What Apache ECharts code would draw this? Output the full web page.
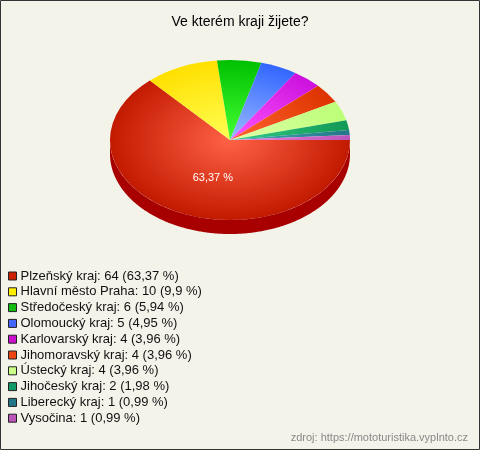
<!DOCTYPE html>
<html><head><meta charset="utf-8">
<script src="https://cdn.jsdelivr.net/npm/echarts@6/dist/echarts.min.js"></script>
<style>html,body{margin:0;padding:0;background:#f4f3ea}#c{width:480px;height:450px;}</style>
</head><body><div id="c"></div>
<script>
const categories = ['Plzeňský kraj','Hlavní město Praha','Středočeský kraj','Olomoucký kraj','Karlovarský kraj','Jihomoravský kraj','Ústecký kraj','Jihočeský kraj','Liberecký kraj','Vysočina'];
const values = [64,10,6,5,4,4,4,2,1,1];
const legendColors = ['#cc2200','#ffee00','#11bb11','#4466ff','#cc11cc','#ee4411','#ccff88','#119966','#227788','#bb55bb'];
const innerColors = ['#ff6245','#ffff55','#44ff33','#99bbff','#ff55ff','#ff6630','#e0ffaa','#33cc88','#44aabb','#ee88dd'];
const outerColors = ['#c21a00','#ffe000','#00c000','#3366ff','#cc11dd','#dd3300','#bbff77','#119955','#227788','#bb55bb'];
const sideColors = ['#a80000','#ccb000','#009000','#2244cc','#990099','#aa2200','#88cc55','#0b6f40','#155566','#884488'];

const total = values.reduce((a,b)=>a+b,0);
const cum = [0]; values.forEach(v=>cum.push(cum[cum.length-1]+v));
function pctText(v){ return (Math.round(v/total*10000)/100).toString().replace('.',','); }

const CX=230, CY=140, RX=120, RY=80, DEPTH=14;

function makeRender(i){
  return function(params, api){
    const v = api.value(0);
    const start = cum[i]/total*Math.PI*2;
    const end = start + v/total*Math.PI*2;
    const children = [];
    const a = Math.max(start,0), b = Math.min(end,Math.PI);
    if (b > a) {
      const pts = [];
      const n = Math.max(2, Math.ceil((b-a)/0.01));
      for (let k=0;k<=n;k++){ const t=a+(b-a)*k/n; pts.push([CX+RX*Math.cos(t), CY+RY*Math.sin(t)]); }
      for (let k=n;k>=0;k--){ const t=a+(b-a)*k/n; pts.push([CX+RX*Math.cos(t), CY+RY*Math.sin(t)+DEPTH]); }
      children.push({type:'polygon', shape:{points:pts}, style:{fill:sideColors[i]}, z2:1});
    }
    children.push({
      type:'group', scaleY: RY/RX, originX: CX, originY: CY, z2: 5,
      children:[{
        type:'sector',
        shape:{cx:CX, cy:CY, r0:0, r:RX, startAngle:start, endAngle:end, clockwise:true},
        style:{fill:{type:'radial', x:CX, y:CY, r:RX, global:true,
          colorStops:[{offset:0,color:innerColors[i]},{offset:1,color:outerColors[i]}]}}
      }]
    });
    if (v/total > 0.1) {
      const mid = (start+end)/2;
      children.push({type:'text', x: CX + RX*0.35*Math.cos(mid), y: CY + RY*0.52*Math.sin(mid), z2: 10,
        style:{text: pctText(v)+' %', fill:'#fff', font:'11px "Liberation Sans", Arial, sans-serif', align:'center', verticalAlign:'middle'}});
    }
    return {type:'group', children};
  };
}

const series = categories.map((name,i)=>({
  type:'custom', name, coordinateSystem:'none',
  data:[[values[i]]],
  itemStyle:{color:legendColors[i]},
  renderItem: makeRender(i),
  silent:true
}));

const chart = echarts.init(document.getElementById('c'));
chart.setOption({
  backgroundColor:'#f4f3ea',
  animation:false,
  title:[
    {text:'Ve kterém kraji žijete?', left:'center', top:10,
     textStyle:{fontSize:14, fontWeight:'normal', color:'#000', fontFamily:'Liberation Sans'}},
    {text:'zdroj: https://mototuristika.vyplnto.cz', right:7, top:427,
     textStyle:{fontSize:11, fontWeight:'normal', color:'#888', fontFamily:'Liberation Sans'}}
  ],
  legend:{
    orient:'vertical', left:8, top:269, padding:0, icon:'rect', itemWidth:8, itemHeight:8, itemGap:1.8,
    selectedMode:false,
    itemStyle:{borderColor:'#222', borderWidth:1},
    textStyle:{fontSize:13, color:'#111', fontFamily:'Liberation Sans', lineHeight:14, padding:[0,0,0,-1]},
    data: categories,
    formatter: function(name){ const i=categories.indexOf(name); return name+': '+values[i]+' ('+pctText(values[i])+' %)'; }
  },
  graphic:[{type:'rect', shape:{x:0.5,y:0.5,width:479,height:449}, style:{fill:'none', stroke:'#333', lineWidth:1}, silent:true, z:100}],
  series
});
</script></body></html>
